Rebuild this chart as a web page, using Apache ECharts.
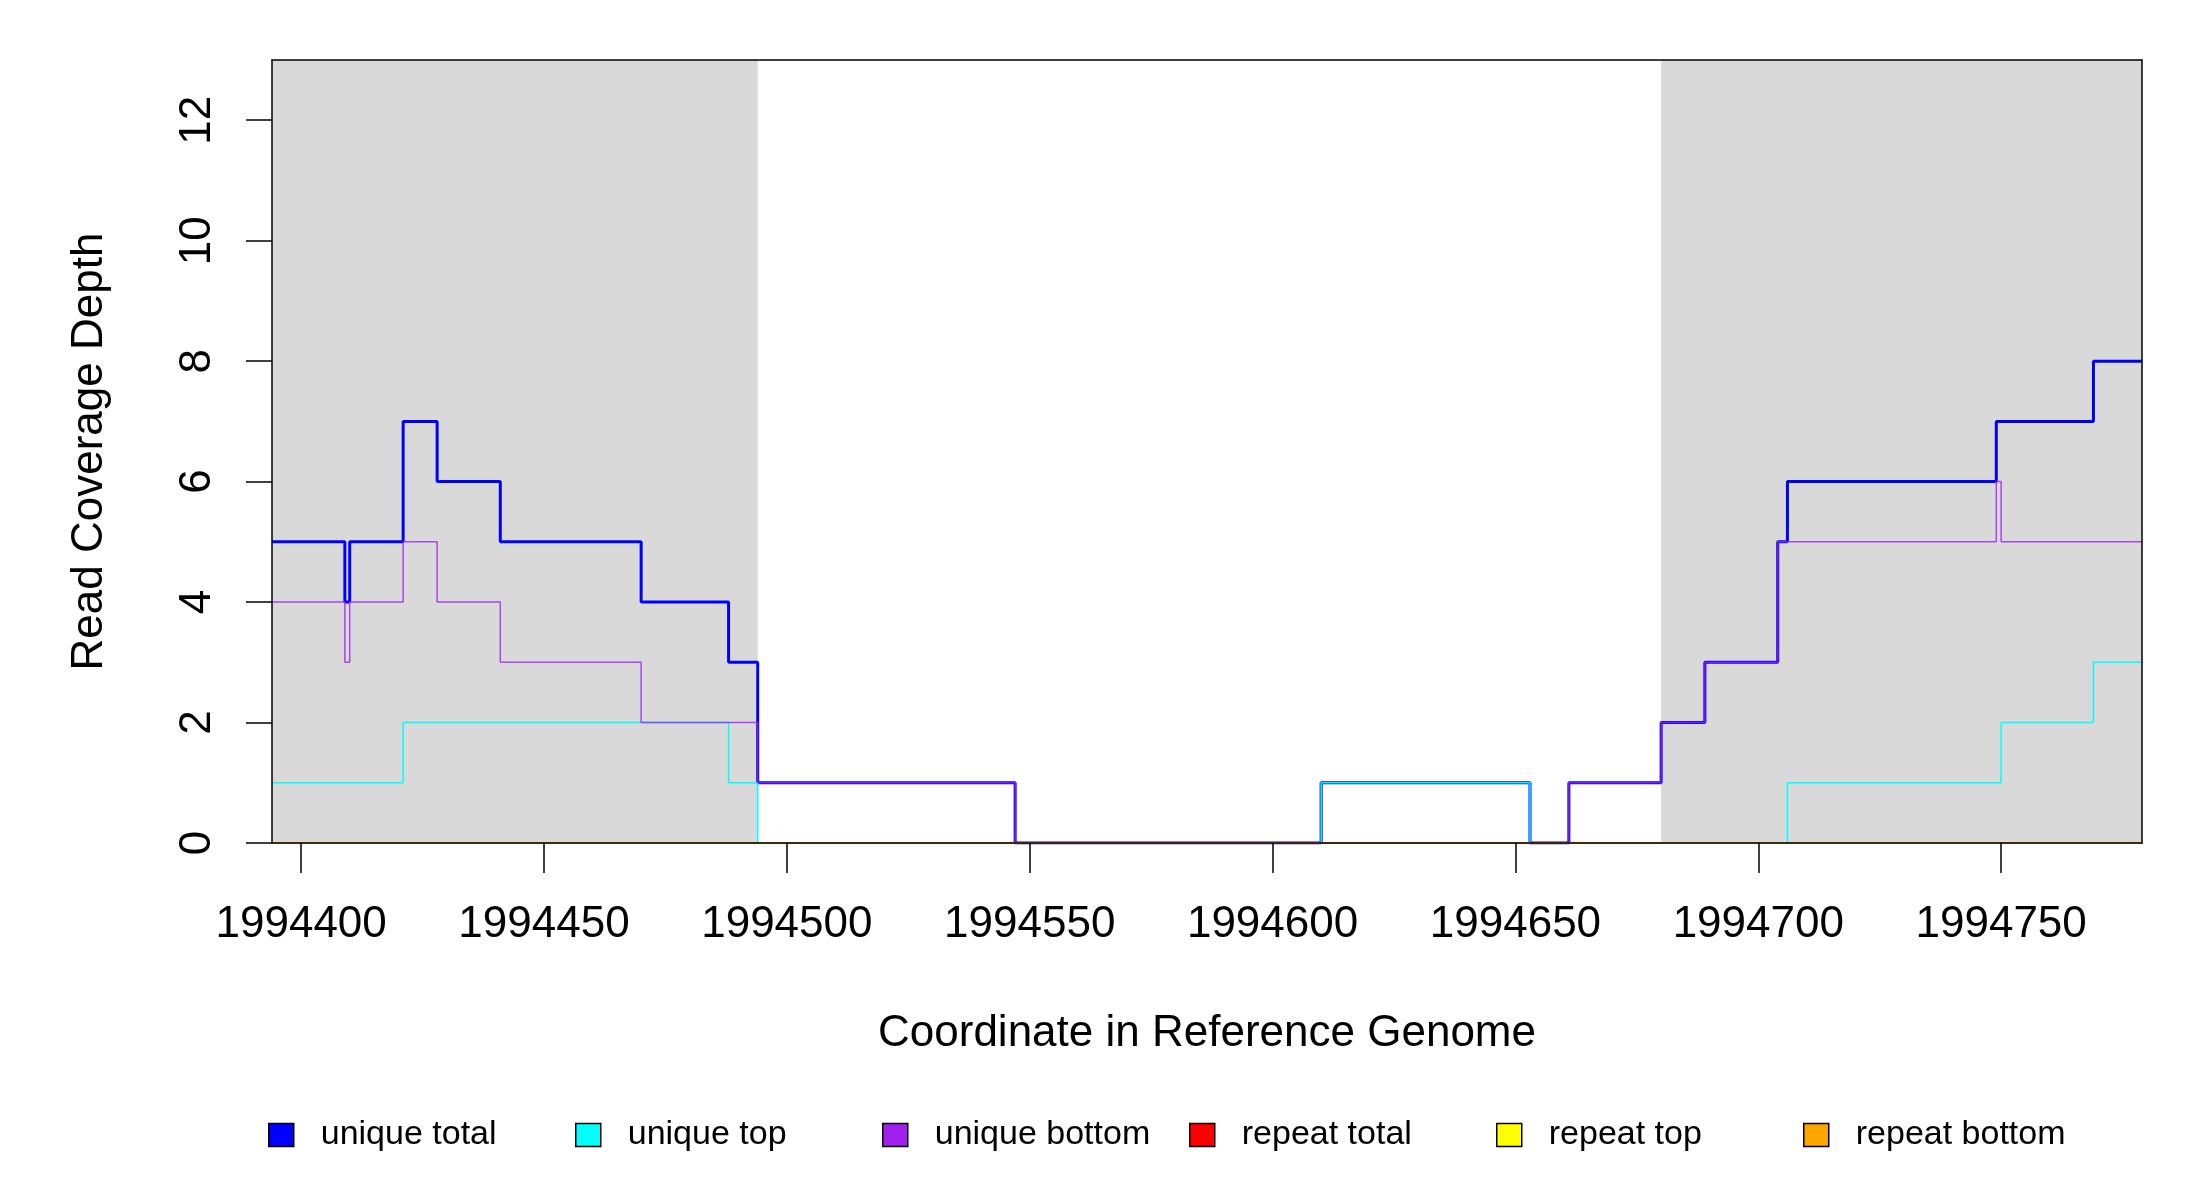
<!DOCTYPE html>
<html>
<head>
<meta charset="utf-8">
<title>Read Coverage Depth</title>
<script src="https://cdn.jsdelivr.net/npm/echarts@6/dist/echarts.min.js"></script>
<style>
  html, body { margin: 0; padding: 0; background: #fff; }
  #main { width: 2200px; height: 1200px; }
</style>
</head>
<body>
<div id="main"></div>
<script>
// axis range and ticks
var xMin = 1994394;
var xMax = 1994779;
var xTicks = [1994400, 1994450, 1994500, 1994550, 1994600, 1994650, 1994700, 1994750];
var yTicks = [0, 2, 4, 6, 8, 10, 12];

// shaded regions [start, end]
var shaded = [[1994394, 1994494], [1994680, 1994779]];

// step breakpoints and depth values (value holds until the next breakpoint)
var totalX = [1994394, 1994409, 1994410, 1994421, 1994428, 1994441, 1994470, 1994488, 1994494, 1994547, 1994610, 1994653, 1994661, 1994680, 1994689, 1994704, 1994706, 1994749, 1994769, 1994779];
var totalV = [5, 4, 5, 7, 6, 5, 4, 3, 1, 0, 1, 0, 1, 2, 3, 5, 6, 7, 8, 8];

var topX = [1994394, 1994421, 1994488, 1994494, 1994610, 1994653, 1994706, 1994750, 1994769, 1994779];
var topV = [1, 2, 1, 0, 1, 0, 1, 2, 3, 3];

var bottomX = [1994394, 1994409, 1994410, 1994421, 1994428, 1994441, 1994470, 1994494, 1994547, 1994661, 1994680, 1994689, 1994704, 1994749, 1994750, 1994779];
var bottomV = [4, 3, 4, 5, 4, 3, 2, 1, 0, 1, 2, 3, 5, 6, 5, 5];

var repeatX = [1994394, 1994779];
var repeatTotalV = [0, 0];
var repeatTopV = [0, 0];
var repeatBottomV = [0, 0];

var names = ['unique total', 'unique top', 'unique bottom', 'repeat total', 'repeat top', 'repeat bottom'];
var colors = ['#0000FF', '#00FFFF', '#A020F0', '#FF0000', '#FFFF00', '#FFA500'];

function pairs(xs, vs) {
    return xs.map(function (x, i) { return [x, vs[i]]; });
}

var chart = echarts.init(document.getElementById('main'));
var font = 'Liberation Sans';

function stepSeries(name, data, color, width, opacity) {
    return {
        name: name,
        type: 'line',
        step: 'end',
        data: data,
        showSymbol: false,
        symbol: 'none',
        animation: false,
        silent: true,
        z: 3,
        itemStyle: { color: color },
        lineStyle: { color: color, width: width, opacity: opacity }
    };
}

// one legend per entry so the entries sit on an even spacing
var legends = names.map(function (n, i) {
    return {
        data: [n],
        left: 263 + i * 307,
        top: 1113,
        icon: 'rect',
        itemWidth: 25,
        itemHeight: 23,
        itemGap: 0,
        selectedMode: false,
        textStyle: { fontFamily: font, fontSize: 34, color: '#000', padding: [0, 0, 0, 22] },
        itemStyle: { borderColor: '#000', borderWidth: 1.5 }
    };
});

chart.setOption({
    backgroundColor: '#fff',
    textStyle: { fontFamily: font },
    legend: legends,
    grid: { left: 272, right: 58, top: 60, bottom: 357, containLabel: false },
    xAxis: [{
        type: 'value',
        min: xMin,
        max: xMax,
        position: 'bottom',
        z: 5,
        name: 'Coordinate in Reference Genome',
        nameLocation: 'middle',
        nameGap: 169,
        nameTextStyle: { fontFamily: font, fontSize: 44, color: '#000' },
        axisLine: { show: true, onZero: false, lineStyle: { color: '#000', width: 1.5 } },
        axisTick: { show: true, length: 30, customValues: xTicks, lineStyle: { color: '#000', width: 1.5 } },
        axisLabel: {
            customValues: xTicks, fontSize: 44, color: '#000', margin: 60, fontFamily: font,
            formatter: function (v) { return String(v); }
        },
        splitLine: { show: false }
    }, {
        type: 'value',
        min: xMin,
        max: xMax,
        position: 'top',
        z: 5,
        axisLine: { show: true, onZero: false, lineStyle: { color: '#000', width: 1.5 } },
        axisTick: { show: false },
        axisLabel: { show: false },
        splitLine: { show: false }
    }],
    yAxis: [{
        type: 'value',
        min: 0,
        max: 13,
        position: 'left',
        z: 5,
        name: 'Read Coverage Depth',
        nameLocation: 'middle',
        nameGap: 160,
        nameRotate: 90,
        nameTextStyle: { fontFamily: font, fontSize: 44, color: '#000' },
        axisLine: { show: true, onZero: false, lineStyle: { color: '#000', width: 1.5 } },
        axisTick: { show: true, length: 26, customValues: yTicks, lineStyle: { color: '#000', width: 1.5 } },
        axisLabel: { customValues: yTicks, rotate: 90, fontSize: 44, color: '#000', margin: 52, fontFamily: font },
        splitLine: { show: false }
    }, {
        type: 'value',
        min: 0,
        max: 13,
        position: 'right',
        z: 5,
        axisLine: { show: true, onZero: false, lineStyle: { color: '#000', width: 1.5 } },
        axisTick: { show: false },
        axisLabel: { show: false },
        splitLine: { show: false }
    }],
    series: [
        {
            name: 'shade',
            type: 'line',
            data: [],
            silent: true,
            z: 1,
            markArea: {
                silent: true,
                itemStyle: { color: '#D9D9D9' },
                data: shaded.map(function (r) { return [{ xAxis: r[0] }, { xAxis: r[1] }]; })
            }
        },
        stepSeries(names[0], pairs(totalX, totalV), colors[0], 3, 1),
        stepSeries(names[1], pairs(topX, topV), colors[1], 1.5, 1),
        stepSeries(names[2], pairs(bottomX, bottomV), colors[2], 1.5, 0.8),
        stepSeries(names[3], pairs(repeatX, repeatTotalV), colors[3], 1.5, 0.6),
        stepSeries(names[4], pairs(repeatX, repeatTopV), colors[4], 1.5, 0.6),
        stepSeries(names[5], pairs(repeatX, repeatBottomV), colors[5], 1.5, 0.8)
    ]
});
</script>
</body>
</html>
